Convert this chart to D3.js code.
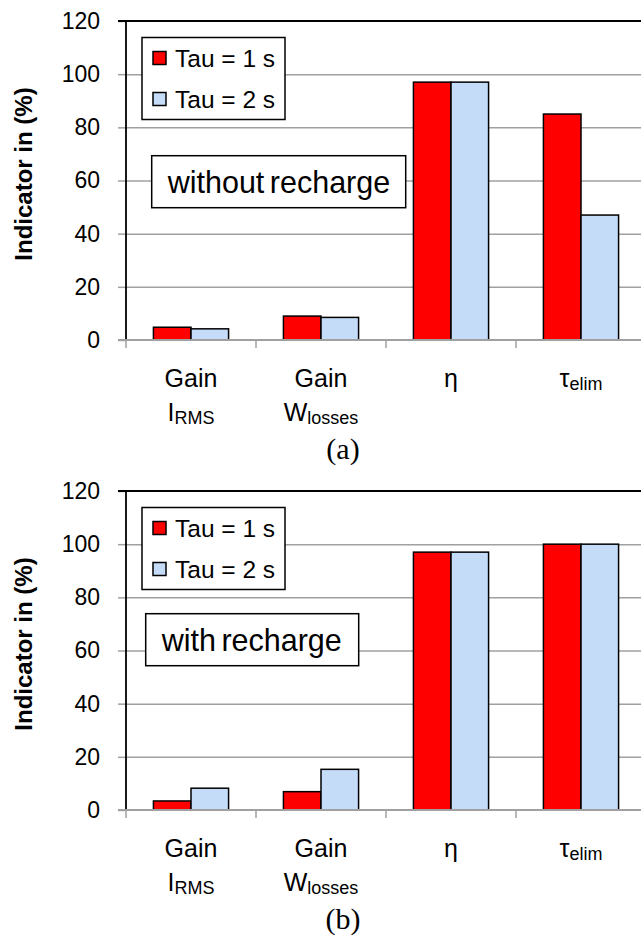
<!DOCTYPE html>
<html>
<head>
<meta charset="utf-8">
<script src="https://cdn.jsdelivr.net/npm/d3@7"></script>
<style>
  body { margin: 0; background: #fff; }
  svg { display: block; font-family: "Liberation Sans", Arial, sans-serif; }
</style>
</head>
<body>
<svg id="chart"></svg>
<script>
// categories on the x axis, and how their labels are split into lines
const categories = ["gainIrms", "gainWlosses", "eta", "tauElim"];
const categoryLabels = [
    [[{ t: "Gain" }], [{ t: "I" }, { t: "RMS", sub: true }]],
    [[{ t: "Gain" }], [{ t: "W" }, { t: "losses", sub: true }]],
    [[{ t: "η" }]],
    [[{ t: "τ" }, { t: "elim", sub: true }]]
];
const seriesNames = ["Tau = 1 s", "Tau = 2 s"];
const seriesColors = ["#ff0000", "#c5dcf8"];

// panel (a): without recharge
const withoutTau1 = [4.8, 9.0, 97.0, 85.0];
const withoutTau2 = [4.2, 8.5, 97.0, 47.0];
// panel (b): with recharge
const withTau1 = [3.4, 6.9, 97.0, 100.0];
const withTau2 = [8.2, 15.3, 97.0, 100.0];

const yTicks = [0, 20, 40, 60, 80, 100, 120];

const width = 641;
const height = 936;
const left = 126;
const right = 646;
const plotH = 319;
const gridColor = "#a0a0a0";

const svg = d3.select('#chart')
    .attr('width', width)
    .attr('height', height);

const x = d3.scaleBand()
    .domain(categories)
    .range([left, right])
    .paddingInner(0)
    .paddingOuter(0);

const xSub = d3.scaleBand()
    .domain(seriesNames)
    .range([0, x.bandwidth()])
    .paddingInner(0)
    .paddingOuter(0.73);

function drawPanel(top, tau1, tau2, note, noteX, noteY, noteW, caption) {
    const bottom = top + plotH;
    const y = d3.scaleLinear().domain([0, 120]).range([bottom, top]);
    const g = svg.append('g');

    //gridlines
    const grid = g.append('g')
        .attr('transform', `translate(${left}, 0)`)
        .call(d3.axisLeft(y).tickValues(yTicks.slice(1, -1)).tickSize(-(right - left)).tickFormat(''));
    grid.select('.domain').remove();
    grid.selectAll('line').attr('stroke', gridColor).attr('stroke-width', 1.5);

    //bars
    const rows = categories.map((c, i) => ({ cat: c, vals: [tau1[i], tau2[i]] }));
    g.selectAll('g.cat')
        .data(rows)
        .enter()
        .append('g')
        .attr('transform', d => `translate(${x(d.cat)}, 0)`)
        .selectAll('rect')
        .data(d => d.vals.map((v, k) => ({ name: seriesNames[k], value: v, color: seriesColors[k] })))
        .enter()
        .append('rect')
        .attr('x', d => xSub(d.name))
        .attr('y', d => y(d.value))
        .attr('width', xSub.bandwidth())
        .attr('height', d => y(0) - y(d.value))
        .attr('fill', d => d.color)
        .attr('stroke', '#000')
        .attr('stroke-width', 1.5);

    //y ticks and labels
    const yAxisG = g.append('g')
        .attr('transform', `translate(${left}, 0)`)
        .call(d3.axisLeft(y).tickValues(yTicks).tickSize(8).tickPadding(18));
    yAxisG.select('.domain').remove();
    yAxisG.selectAll('line').attr('stroke', gridColor).attr('stroke-width', 1.5);
    yAxisG.selectAll('text')
        .attr('font-size', 23)
        .attr('font-family', '"Liberation Sans", Arial, sans-serif')
        .attr('fill', '#000');

    //plot border (left + top)
    g.append('path')
        .attr('d', `M${left - 8},${top}H${right}M${left},${top}V${bottom}`)
        .attr('fill', 'none')
        .attr('stroke', '#000')
        .attr('stroke-width', 1.8);

    //x axis at zero
    g.append('line')
        .attr('x1', left - 8).attr('x2', right)
        .attr('y1', y(0)).attr('y2', y(0))
        .attr('stroke', gridColor)
        .attr('stroke-width', 2);
    const bounds = categories.map(c => x(c)).concat([x.range()[1]]);
    g.selectAll('line.xtick')
        .data(bounds)
        .enter()
        .append('line')
        .attr('x1', d => d).attr('x2', d => d)
        .attr('y1', y(0)).attr('y2', y(0) + 8)
        .attr('stroke', gridColor)
        .attr('stroke-width', 1.5);

    //category labels
    categories.forEach((c, i) => {
        const cx = x(c) + x.bandwidth() / 2;
        categoryLabels[i].forEach((line, j) => {
            const t = g.append('text')
                .attr('x', cx)
                .attr('y', y(0) + 47 + j * 34)
                .attr('text-anchor', 'middle')
                .attr('font-size', 25);
            line.forEach(part => {
                const ts = t.append('tspan').text(part.t);
                if (part.sub) ts.attr('font-size', 18).attr('dy', 3);
            });
        });
    });

    //y title
    g.append('text')
        .attr('transform', `translate(32, ${top + 153}) rotate(-90)`)
        .attr('text-anchor', 'middle')
        .attr('font-weight', 'bold')
        .attr('font-size', 24)
        .text('Indicator in (%)');

    //legend
    const lg = g.append('g').attr('transform', `translate(142, ${top + 16.5})`);
    lg.append('rect')
        .attr('width', 143).attr('height', 82)
        .attr('fill', '#fff').attr('stroke', '#000').attr('stroke-width', 1.5);
    seriesNames.forEach((name, k) => {
        lg.append('rect')
            .attr('x', 11).attr('y', 14 + k * 41)
            .attr('width', 13).attr('height', 13)
            .attr('fill', seriesColors[k]).attr('stroke', '#000').attr('stroke-width', 1.5);
        lg.append('text')
            .attr('x', 33).attr('y', 29.5 + k * 40.6)
            .attr('font-size', 24.5)
            .text(name);
    });

    //annotation box
    const ng = g.append('g').attr('transform', `translate(${noteX}, ${top + noteY})`);
    ng.append('rect')
        .attr('width', noteW).attr('height', 52)
        .attr('fill', '#fff').attr('stroke', '#000').attr('stroke-width', 1.5);
    ng.append('text')
        .attr('x', 16).attr('y', 37)
        .attr('font-size', 30.5)
        .attr('word-spacing', -3)
        .text(note);

    //caption
    g.append('text')
        .attr('x', 343)
        .attr('y', bottom + 119)
        .attr('text-anchor', 'middle')
        .attr('font-family', '"Liberation Serif", "Times New Roman", serif')
        .attr('font-size', 30)
        .text(caption);
}

drawPanel(21, withoutTau1, withoutTau2, 'without recharge', 151.7, 134.7, 254, '(a)');
drawPanel(491, withTau1, withTau2, 'with recharge', 145.7, 122.7, 213, '(b)');
</script>
</body>
</html>
